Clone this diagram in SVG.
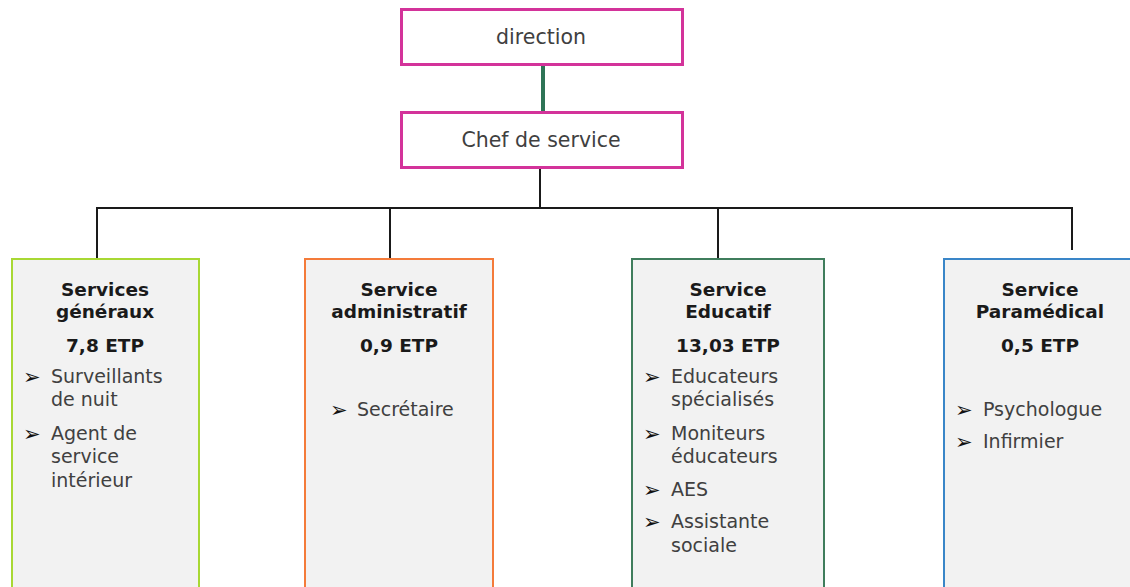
<svg xmlns="http://www.w3.org/2000/svg" width="1130" height="587" viewBox="0 0 1130 587">
<style>
.top{fill:#ffffff;stroke:#D3339A;stroke-width:3}
.box{fill:#F2F2F2;stroke-width:2}
.t{font-family:"DejaVu Sans",sans-serif;font-size:19px;fill:#404040}
.tt{font-family:"DejaVu Sans",sans-serif;font-size:20.5px;fill:#404040;text-anchor:middle}
.h{font-family:"DejaVu Sans",sans-serif;font-size:18.5px;font-weight:bold;fill:#1a1a1a;text-anchor:middle}
.b{font-family:"DejaVu Sans",sans-serif;font-size:21px;fill:#111111}
.c{fill:none;stroke:#1a1a1a;stroke-width:2}
</style>
<rect width="1130" height="587" fill="#ffffff"/>
<g id="connectors">
<line x1="543" y1="64" x2="543" y2="113" stroke="#2E7456" stroke-width="4"/>
<polyline class="c" points="540,152 540,208"/>
<polyline class="c" points="97,260 97,208 1072,208 1072,250"/>
<line class="c" x1="390" y1="208" x2="390" y2="260"/>
<line class="c" x1="718" y1="208" x2="718" y2="260"/>
</g>
<g id="direction">
<rect class="top" x="401.5" y="9.5" width="281" height="55"/>
<text class="tt" x="541" y="44">direction</text>
</g>
<g id="chef">
<rect class="top" x="401.5" y="112.5" width="281" height="55"/>
<text class="tt" x="541" y="147">Chef de service</text>
</g>
<g id="generaux">
<rect class="box" x="12" y="259" width="187" height="340" stroke="#A8D834"/>
<text class="h" x="105" y="296">Services</text>
<text class="h" x="105" y="318">généraux</text>
<text class="h" x="105" y="352">7,8 ETP</text>
<text class="b" x="23" y="384">➢</text>
<text class="t" x="51" y="383">Surveillants</text>
<text class="t" x="51" y="406">de nuit</text>
<text class="b" x="23" y="441">➢</text>
<text class="t" x="51" y="440">Agent de</text>
<text class="t" x="51" y="463">service</text>
<text class="t" x="51" y="487">intérieur</text>
</g>
<g id="administratif">
<rect class="box" x="305" y="259" width="188" height="340" stroke="#F47B3A"/>
<text class="h" x="399" y="296">Service</text>
<text class="h" x="399" y="318">administratif</text>
<text class="h" x="399" y="352">0,9 ETP</text>
<text class="b" x="330" y="417">➢</text>
<text class="t" x="357" y="416">Secrétaire</text>
</g>
<g id="educatif">
<rect class="box" x="632" y="259" width="192" height="340" stroke="#3F7D5C"/>
<text class="h" x="728" y="296">Service</text>
<text class="h" x="728" y="318">Educatif</text>
<text class="h" x="728" y="352">13,03 ETP</text>
<text class="b" x="643" y="384">➢</text>
<text class="t" x="671" y="383">Educateurs</text>
<text class="t" x="671" y="406">spécialisés</text>
<text class="b" x="643" y="441">➢</text>
<text class="t" x="671" y="440">Moniteurs</text>
<text class="t" x="671" y="463">éducateurs</text>
<text class="b" x="643" y="497">➢</text>
<text class="t" x="671" y="496">AES</text>
<text class="b" x="643" y="529">➢</text>
<text class="t" x="671" y="528">Assistante</text>
<text class="t" x="671" y="552">sociale</text>
</g>
<g id="paramedical">
<rect class="box" x="944" y="259" width="200" height="340" stroke="#3A86C8"/>
<text class="h" x="1040" y="296">Service</text>
<text class="h" x="1040" y="318">Paramédical</text>
<text class="h" x="1040" y="352">0,5 ETP</text>
<text class="b" x="955" y="417">➢</text>
<text class="t" x="983" y="416">Psychologue</text>
<text class="b" x="955" y="449">➢</text>
<text class="t" x="983" y="448">Infirmier</text>
</g>
</svg>
